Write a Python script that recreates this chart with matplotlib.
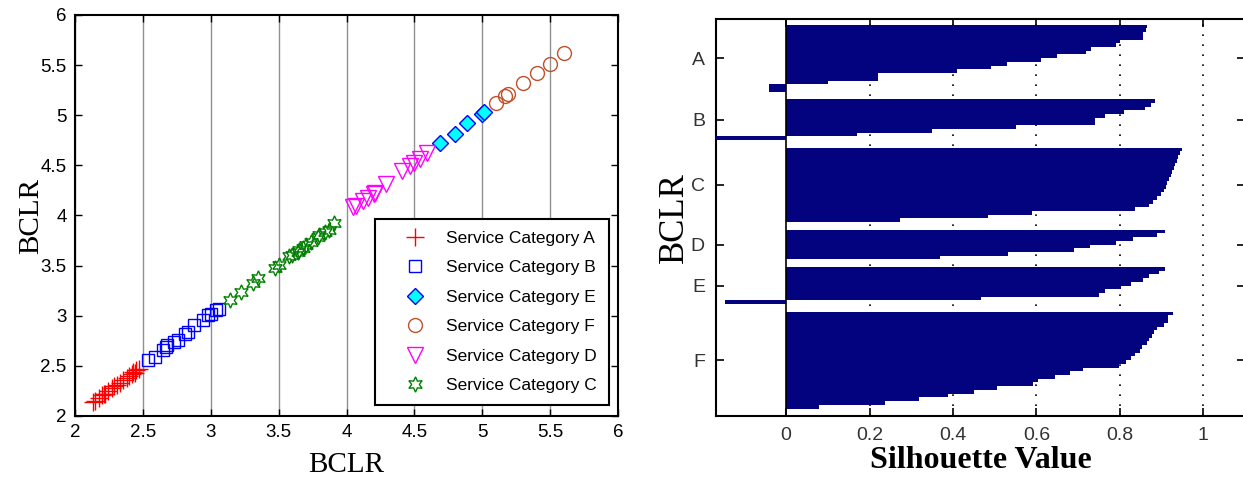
import numpy as np
import matplotlib.pyplot as plt

# =========================
# DADOS - dispersao (BCLR x BCLR)
# =========================
a_x = [2.13, 2.15, 2.18, 2.20, 2.21, 2.22, 2.24, 2.27, 2.29, 2.31, 2.33, 2.35, 2.38, 2.40, 2.42, 2.43, 2.44, 2.45, 2.47]
a_y = [2.14, 2.15, 2.18, 2.21, 2.22, 2.22, 2.25, 2.28, 2.30, 2.31, 2.33, 2.36, 2.38, 2.40, 2.42, 2.44, 2.43, 2.46, 2.47]

b_x = [2.54, 2.59, 2.65, 2.67, 2.68, 2.73, 2.76, 2.81, 2.83, 2.88, 2.94, 2.98, 3.00, 3.04, 3.06]
b_y = [2.56, 2.59, 2.66, 2.69, 2.71, 2.74, 2.76, 2.82, 2.84, 2.91, 2.96, 3.01, 3.02, 3.06, 3.07]

c_x = [3.14, 3.22, 3.31, 3.35, 3.47, 3.50, 3.58, 3.60, 3.64, 3.65, 3.68, 3.70, 3.74, 3.79, 3.80, 3.84, 3.87, 3.91]
c_y = [3.16, 3.24, 3.33, 3.38, 3.48, 3.51, 3.60, 3.61, 3.64, 3.66, 3.68, 3.71, 3.74, 3.79, 3.81, 3.84, 3.86, 3.93]

d_x = [4.05, 4.07, 4.12, 4.16, 4.20, 4.21, 4.29, 4.41, 4.47, 4.50, 4.54, 4.59]
d_y = [4.08, 4.09, 4.14, 4.17, 4.21, 4.22, 4.31, 4.44, 4.49, 4.52, 4.56, 4.62]

e_x = [4.69, 4.80, 4.89, 5.00, 5.01]
e_y = [4.72, 4.81, 4.92, 5.01, 5.03]

f_x = [5.10, 5.17, 5.19, 5.30, 5.40, 5.50, 5.60]
f_y = [5.12, 5.19, 5.21, 5.32, 5.42, 5.51, 5.62]

# =========================
# DADOS - silhouette
# =========================
clusters = ["A", "B", "C", "D", "E", "F"]
sil_a = [0.865, 0.862, 0.856, 0.855, 0.80, 0.79, 0.73, 0.72, 0.65, 0.61, 0.53, 0.49, 0.41, 0.22, 0.22, 0.10, -0.04, -0.04]
sil_b = [0.885, 0.875, 0.86, 0.81, 0.765, 0.74, 0.74, 0.55, 0.35, 0.17, -0.17]
sil_c = [0.948, 0.945, 0.94, 0.937, 0.933, 0.93, 0.926, 0.922, 0.918, 0.914, 0.91, 0.905, 0.898, 0.89, 0.88, 0.869, 0.836, 0.589, 0.483, 0.274]
sil_d = [0.909, 0.888, 0.832, 0.79, 0.728, 0.689, 0.533, 0.369]
sil_e = [0.909, 0.895, 0.869, 0.855, 0.827, 0.802, 0.765, 0.749, 0.466, -0.146]
sil_f = [0.927, 0.916, 0.916, 0.906, 0.89, 0.881, 0.877, 0.871, 0.865, 0.852, 0.848, 0.836, 0.827, 0.815, 0.798, 0.711, 0.68, 0.645, 0.603, 0.591, 0.506, 0.45, 0.388, 0.319, 0.236, 0.08]
sil_all = [sil_a, sil_b, sil_c, sil_d, sil_e, sil_f]

sans = ["Liberation Sans", "DejaVu Sans"]
serif = ["Liberation Serif", "DejaVu Serif"]

fig = plt.figure(figsize=(12.43, 4.78), dpi=100)

# =========================
# GRAFICO 1 - dispersao
# =========================
ax1 = fig.add_axes([75 / 1243, 62 / 478, 543 / 1243, 401 / 478])

ax1.plot(a_x, a_y, "+", color="red", ms=13, mew=1, label="Service Category A")
ax1.plot(b_x, b_y, "s", color="blue", mfc="none", ms=9, mew=1, label="Service Category B")
ax1.plot(e_x, e_y, "D", color="blue", mfc="cyan", ms=8, mew=1, label="Service Category E")
ax1.plot(f_x, f_y, "o", color="#C0502A", mfc="none", ms=10, mew=1, label="Service Category F")
ax1.plot(d_x, d_y, "v", color="magenta", mfc="none", ms=12, mew=1, label="Service Category D")
ax1.plot(c_x, c_y, marker=(6, 1, 0), ls="none", color="green", mfc="none", ms=11, mew=1, label="Service Category C")

ax1.set_xlim(2, 6)
ax1.set_ylim(2, 6)
ticks = np.arange(2, 6.01, 0.5)
labels = ["%g" % t for t in ticks]
ax1.set_xticks(ticks)
ax1.set_xticklabels(labels, fontfamily=sans, fontsize=13.5)
ax1.set_yticks(ticks)
ax1.set_yticklabels(labels, fontfamily=sans, fontsize=13.5)
ax1.tick_params(direction="in", top=True, right=True, length=5, width=1, pad=6)
ax1.grid(True, axis="x", color="#909090", lw=1)
for s in ax1.spines.values():
    s.set_linewidth(1.5)
ax1.set_xlabel("BCLR", fontfamily=serif, fontsize=21, labelpad=8)
ax1.set_ylabel("BCLR", fontfamily=serif, fontsize=21, labelpad=-2.5)

leg = ax1.legend(loc="lower right", bbox_to_anchor=(0.983, 0.027), borderaxespad=0,
                 prop={"family": sans, "size": 12.5}, fancybox=False, framealpha=1,
                 edgecolor="black", handlelength=3.2, handletextpad=0.2,
                 labelspacing=0.82, borderpad=0.7, numpoints=1)
leg.get_frame().set_linewidth(1.5)

# =========================
# GRAFICO 2 - silhouette
# =========================
ax2 = fig.add_axes([716 / 1243, 62 / 478, 529 / 1243, 397 / 478])

pos = 2
centers = []
for vals in sil_all:
    y = np.arange(pos, pos + len(vals))
    ax2.barh(y, vals, height=1.0, color="#03037F", lw=0, zorder=3)
    centers.append(y.mean())
    pos = y[-1] + 3
ax2.set_ylim(pos - 0.5, 0)

ax2.set_xlim(-0.168, 1.1)
xt = [0, 0.2, 0.4, 0.6, 0.8, 1]
for x in xt[1:]:
    ax2.axvline(x, color="black", ls=(0, (1, 5)), lw=1.2, zorder=1)
ax2.axvline(0, color="black", lw=1.2, zorder=4)
ax2.set_xticks(xt)
ax2.set_xticklabels(["0", "0.2", "0.4", "0.6", "0.8", "1"], fontfamily=sans, fontsize=14, color="#333333")
ax2.set_yticks(centers)
ax2.set_yticklabels(clusters, fontfamily=sans, fontsize=14, color="#333333")
ax2.tick_params(direction="in", top=True, right=True, length=6, width=1.2, pad=8)
for s in ax2.spines.values():
    s.set_linewidth(1.5)
ax2.set_xlabel("Silhouette Value", fontfamily=serif, fontsize=23, fontweight="bold", labelpad=1)
ax2.set_ylabel("BCLR", fontfamily=serif, fontsize=25, labelpad=0)

fig.savefig("out.png", dpi=100)
